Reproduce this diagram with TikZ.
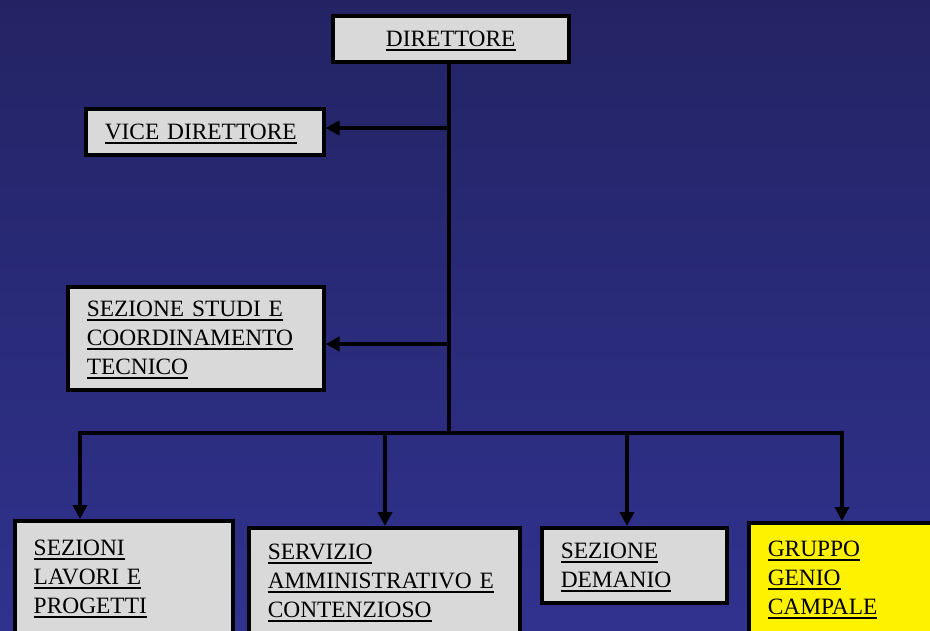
\documentclass[tikz,border=0pt]{standalone}
\usepackage{fontspec}
\setmainfont{Liberation Serif}
\usetikzlibrary{arrows.meta}
\definecolor{sfondoalto}{RGB}{35,35,100}
\definecolor{sfondobasso}{RGB}{48,50,142}
\definecolor{grigio}{RGB}{217,217,217}
\newcommand{\sott}[1]{\leavevmode\setbox0\hbox{#1}\rlap{\smash{\rule[-4.3pt]{\wd0}{1.8pt}}}\box0}

\begin{document}
\begin{tikzpicture}[x=1pt,y=-1pt,
        box/.style={draw, line width=3.5pt, fill=grigio, anchor=north west, align=left,
            inner xsep=19pt, inner ysep=0pt, font=\fontsize{23.4}{29}\selectfont},
        link/.style={line width=3.8pt},
        >={Triangle[length=14pt,width=14pt]}]
        \shade[top color=sfondoalto, bottom color=sfondobasso] (0,0) rectangle (930,630);
        \useasboundingbox (0,0) rectangle (930,630);

        \node[box, align=center, text width=198pt, minimum height=46pt] (dir) at (331,14) {\sott{DIRETTORE}};
        \node[box, text width=200pt, minimum height=46pt] (vice) at (84,107) {\sott{VICE DIRETTORE}};
        \node[box, text width=218pt, minimum height=103pt] (studi) at (66,285)
            {\sott{SEZIONE STUDI E}\\\sott{COORDINAMENTO}\\\sott{TECNICO}};
        \node[box, text width=180pt, minimum height=112pt] (lavori) at (13,519)
            {\sott{SEZIONI}\\\sott{LAVORI E}\\\sott{PROGETTI}};
        \node[box, text width=233pt, minimum height=106pt] (servizio) at (247,526)
            {\sott{SERVIZIO}\\\sott{AMMINISTRATIVO E}\\\sott{CONTENZIOSO}};
        \node[box, text width=147pt, minimum height=75pt] (demanio) at (540,526)
            {\sott{SEZIONE}\\\sott{DEMANIO}};
        \node[box, fill=yellow, text width=152pt, minimum height=111pt] (genio) at (747,521)
            {\sott{GRUPPO}\\\sott{GENIO}\\\sott{CAMPALE}};

        \coordinate (bus) at (449,433);
        \coordinate (vv) at (449,128);
        \coordinate (vs) at (449,344);
        \coordinate (b1) at (80,433);
        \coordinate (b2) at (385,433);
        \coordinate (b3) at (627,433);
        \coordinate (b4) at (842,433);

        \path[draw,link] (dir.south -| bus) -- (bus);
        \path[draw,link,->] (vv) -- (vv -| vice.east);
        \path[draw,link,->] (vs) -- (vs -| studi.east);
        \path[draw,link,->] (bus) -- (b1) -- (b1 |- lavori.north);
        \path[draw,link,->] (b2) -- (b2 |- servizio.north);
        \path[draw,link,->] (b3) -- (b3 |- demanio.north);
        \path[draw,link,->] (bus) -- (b4) -- (b4 |- genio.north);
    \end{tikzpicture}
\end{document}
